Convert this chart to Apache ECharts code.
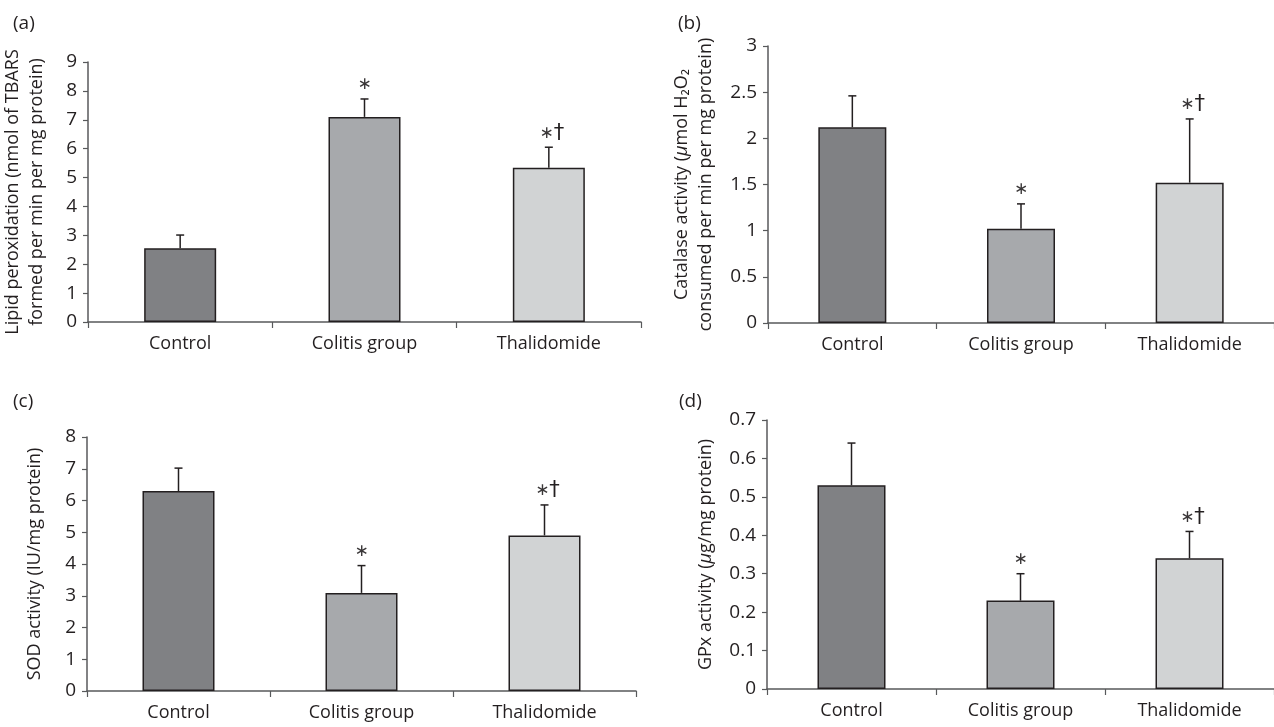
<!DOCTYPE html>
<html>
<head>
<meta charset="utf-8">
<script src="https://cdn.jsdelivr.net/npm/echarts@6/dist/echarts.min.js"></script>
<style>
html,body{margin:0;padding:0;background:#fff;}
#chart{width:1274px;height:727px;}
</style>
</head>
<body>
<div id="chart"></div>
<script>
// ---- data ----
const categories = ['Control', 'Colitis group', 'Thalidomide'];
const annotations = ['', '∗', '∗†'];

const lipidMean = [2.55, 7.10, 5.34];
const lipidErr  = [0.46, 0.62, 0.71];

const catalaseMean = [2.12, 1.02, 1.52];
const catalaseErr  = [0.34, 0.27, 0.69];

const sodMean = [6.30, 3.09, 4.90];
const sodErr  = [0.72, 0.86, 0.96];

const gpxMean = [0.53, 0.23, 0.34];
const gpxErr  = [0.11, 0.07, 0.07];

const lipidTicks = {min: 0, max: 9, interval: 1};
const catalaseTicks = {min: 0, max: 3, interval: 0.5};
const sodTicks = {min: 0, max: 8, interval: 1};
const gpxTicks = {min: 0, max: 0.7, interval: 0.1};

const panelLabels = ['(a)', '(b)', '(c)', '(d)'];

// ---- style ----
const barColors = ['#808184', '#a7a9ac', '#d1d3d4'];
const ink = '#231f20';
const axisInk = '#58595b';
const FONT = '"Open Sans", "Noto Sans", sans-serif';

const grids = [
  {left: 86, width: 555, top: 62, height: 260},
  {left: 768, width: 514.5, top: 46, height: 277},
  {left: 87, width: 549, top: 437, height: 254},
  {left: 767, width: 515, top: 420, height: 269}
];
const barWidths = [72, 68, 72, 68];
const nameGaps = [39, 50, 40, 49];

const yNames = [
  'Lipid peroxidation (nmol of TBARS\nformed per min per mg protein)',
  '{n|Catalase activity (}{i|μ}{n|mol H₂O₂}\n{n|consumed per min per mg protein)}',
  'SOD activity (IU/mg protein)',
  '{n|GPx activity (}{i|μ}{n|g/mg protein)}'
];

const panels = [
  {mean: lipidMean, err: lipidErr, ticks: lipidTicks},
  {mean: catalaseMean, err: catalaseErr, ticks: catalaseTicks},
  {mean: sodMean, err: sodErr, ticks: sodTicks},
  {mean: gpxMean, err: gpxErr, ticks: gpxTicks}
];

function annotRich(a) {
  return a.split('').map(ch => ch === '†' ? '{d|†}' : '{s|' + ch + '}').join('');
}

const xAxes = [], yAxes = [], series = [];
panels.forEach((p, k) => {
  xAxes.push({
    type: 'category', gridIndex: k, data: categories,
    axisLine: {show: true, lineStyle: {color: axisInk, width: 1.5}},
    axisTick: {show: true, length: 6, lineStyle: {color: axisInk, width: 1.2}},
    axisLabel: {color: ink, fontSize: 18, fontFamily: FONT, margin: 13}
  });
  yAxes.push({
    type: 'value', gridIndex: k,
    min: p.ticks.min, max: p.ticks.max, interval: p.ticks.interval,
    axisLine: {show: true, lineStyle: {color: axisInk, width: 1.5}},
    axisTick: {show: true, length: 5, lineStyle: {color: axisInk, width: 1.2}},
    splitLine: {show: false},
    axisLabel: {color: ink, fontSize: 19, fontFamily: FONT, margin: 11},
    name: yNames[k], nameLocation: 'middle', nameRotate: 90, nameGap: nameGaps[k],
    nameTextStyle: {
      color: ink, fontSize: 18, fontFamily: FONT, lineHeight: 24, align: 'center',
      rich: {
        n: {color: ink, fontSize: 18, fontFamily: FONT, lineHeight: 24},
        i: {color: ink, fontSize: 18, fontFamily: FONT, fontStyle: 'italic', lineHeight: 24}
      }
    }
  });
  series.push({
    type: 'bar', xAxisIndex: k, yAxisIndex: k, data: p.mean,
    barWidth: barWidths[k],
    itemStyle: {color: (q) => barColors[q.dataIndex], borderColor: ink, borderWidth: 1.5},
    silent: true, animation: false
  });
  series.push({
    type: 'custom', xAxisIndex: k, yAxisIndex: k, z: 5,
    data: p.mean.map((m, i) => [i, m, m + p.err[i]]),
    renderItem: (params, api) => {
      const i = api.value(0);
      const b = api.coord([i, api.value(1)]);
      const t = api.coord([i, api.value(2)]);
      const children = [
        {type: 'line', shape: {x1: b[0], y1: b[1], x2: t[0], y2: t[1]},
         style: {stroke: ink, lineWidth: 1.5}},
        {type: 'line', shape: {x1: t[0] - 4, y1: t[1], x2: t[0] + 4, y2: t[1]},
         style: {stroke: ink, lineWidth: 1.5}}
      ];
      const a = annotations[i];
      if (a) {
        children.push({type: 'text', style: {
          text: annotRich(a), x: t[0] + (a.length > 1 ? 3 : 0), y: t[1] - 14,
          align: 'center', verticalAlign: 'middle',
          rich: {
            s: {fill: '#3a3738', fontSize: 17, fontFamily: '"DejaVu Sans", sans-serif', lineHeight: 22},
            d: {fill: ink, fontSize: 21, fontFamily: '"DejaVu Sans", sans-serif', lineHeight: 22}
          }
        }});
      }
      return {type: 'group', children};
    },
    silent: true, animation: false
  });
});

const titlePos = [[8, 9], [673, 9], [8, 387], [674, 387]];
const chart = echarts.init(document.getElementById('chart'), null, {renderer: 'canvas'});
chart.setOption({
  animation: false,
  grid: grids,
  xAxis: xAxes,
  yAxis: yAxes,
  series: series,
  title: panelLabels.map((t, k) => ({
    text: t, left: titlePos[k][0], top: titlePos[k][1],
    textStyle: {color: ink, fontSize: 19, fontWeight: 'normal', fontFamily: FONT}
  }))
});
</script>
</body>
</html>
